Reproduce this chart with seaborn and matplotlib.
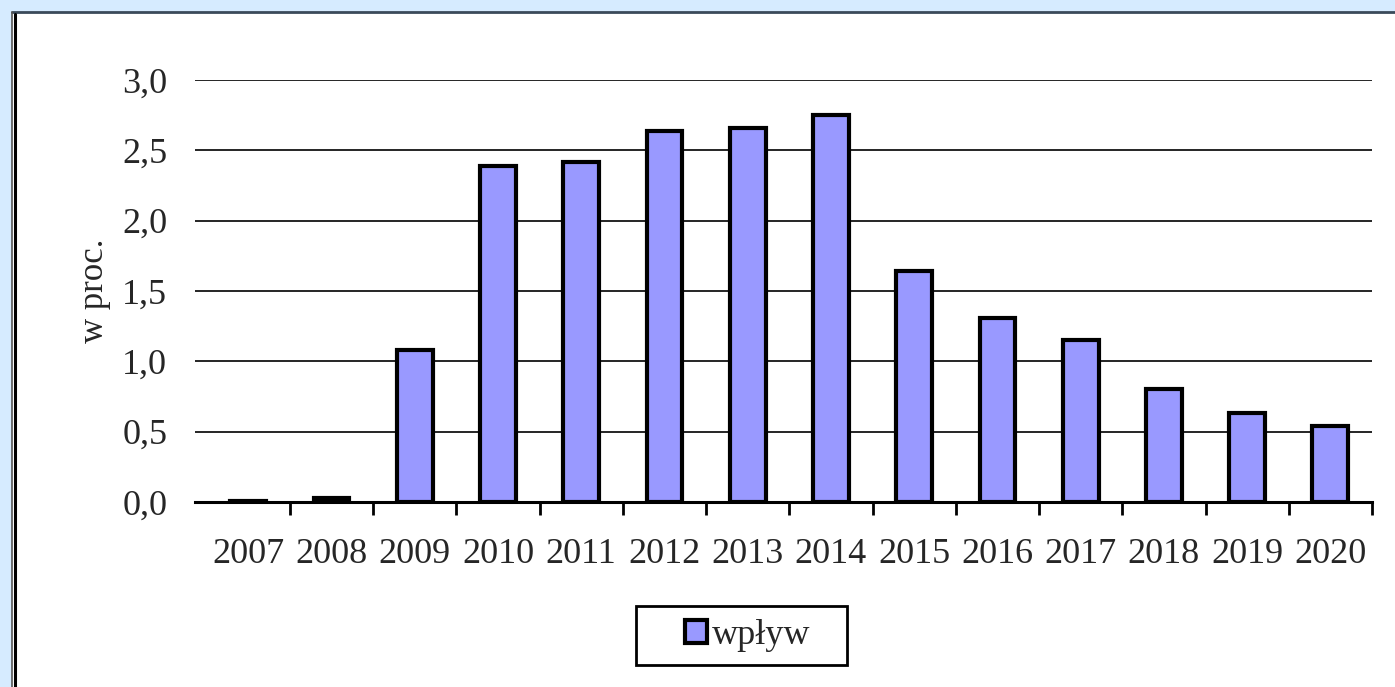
import numpy as np
import pandas as pd
import matplotlib
matplotlib.use("Agg")
import matplotlib.pyplot as plt
import seaborn as sns
from matplotlib.patches import Rectangle
from matplotlib.lines import Line2D

# data
years = ["2007", "2008", "2009", "2010", "2011", "2012", "2013",
         "2014", "2015", "2016", "2017", "2018", "2019", "2020"]
impact = [0.01, 0.03, 1.08, 2.39, 2.42, 2.64, 2.66,
          2.75, 1.64, 1.31, 1.15, 0.80, 0.63, 0.54]
y_ticks = [0.0, 0.5, 1.0, 1.5, 2.0, 2.5, 3.0]
y_tick_labels = ["0,0", "0,5", "1,0", "1,5", "2,0", "2,5", "3,0"]
series_name = "wpływ"
y_label = "w proc."

df = pd.DataFrame({"year": years, "value": impact})

sns.set_theme(style="white")
plt.rcParams["font.family"] = ["Liberation Serif", "DejaVu Serif"]

W, H = 1395, 687
fig = plt.figure(figsize=(W / 100, H / 100), dpi=100)
fig.patch.set_facecolor("#d6ebff")

# white chart panel with dark border on left and top
fig.add_artist(Rectangle((12 / W, 0), 1, 1 - 12 / H,
                         transform=fig.transFigure, facecolor="white",
                         edgecolor="none", zorder=0))
fig.add_artist(Line2D([12 / W, 1], [1 - 12 / H, 1 - 12 / H],
                      transform=fig.transFigure, color="#3a4a5a", lw=2))
fig.add_artist(Line2D([12 / W, 12 / W], [0, 1 - 12 / H],
                      transform=fig.transFigure, color="#555555", lw=1.2))
fig.add_artist(Line2D([15 / W, 15 / W], [0, 1 - 14 / H],
                      transform=fig.transFigure, color="black", lw=2.2))

ax = fig.add_axes([195 / W, 1 - 502 / H, (1372 - 195) / W, (502 - 80) / H])
ax.set_facecolor("none")

sns.barplot(data=df, x="year", y="value", color="#9999ff",
            edgecolor="black", linewidth=3, width=0.43,
            saturation=1, label=series_name, legend=False, ax=ax, zorder=3)

ax.set_ylim(0, 3.0)
# gridlines start a little left of the first category
ax.set_xlim(-0.64, len(years) - 0.5)
ax.set_yticks(y_ticks)
ax.set_yticklabels(y_tick_labels, fontsize=26)
ax.yaxis.grid(True, color="black", linewidth=1.2)
ax.set_axisbelow(True)

ax.set_xticks(np.arange(len(years)))
ax.set_xticklabels(years, fontsize=26)
ax.set_xticks(np.arange(0.5, len(years), 1), minor=True)
ax.tick_params(axis="x", which="major", length=0, pad=26)
ax.tick_params(axis="x", which="minor", length=9, width=2, color="black",
               direction="out", bottom=True)
ax.tick_params(axis="y", length=0, pad=20)

for side in ["top", "right", "left"]:
    ax.spines[side].set_visible(False)
ax.spines["bottom"].set_color("black")
ax.spines["bottom"].set_linewidth(2.2)

ax.set_xlabel("")
ax.set_ylabel(y_label, fontsize=25, labelpad=8)

# legend box drawn as in the reference (wide frame, entry centred)
fig.add_artist(Rectangle((636 / W, 1 - 665 / H), 211 / W, 59 / H,
                         transform=fig.transFigure, facecolor="white",
                         edgecolor="black", lw=2, zorder=5))
leg = fig.legend(*ax.get_legend_handles_labels(), loc="center",
                 bbox_to_anchor=(748 / W, 1 - 636 / H), frameon=False,
                 fontsize=26, handlelength=0.6, handleheight=0.6,
                 handletextpad=0.15, borderpad=0)
leg.set_zorder(6)
for h in leg.legend_handles:
    h.set_linewidth(3)

fig.savefig("out.png", dpi=100, facecolor=fig.get_facecolor())
